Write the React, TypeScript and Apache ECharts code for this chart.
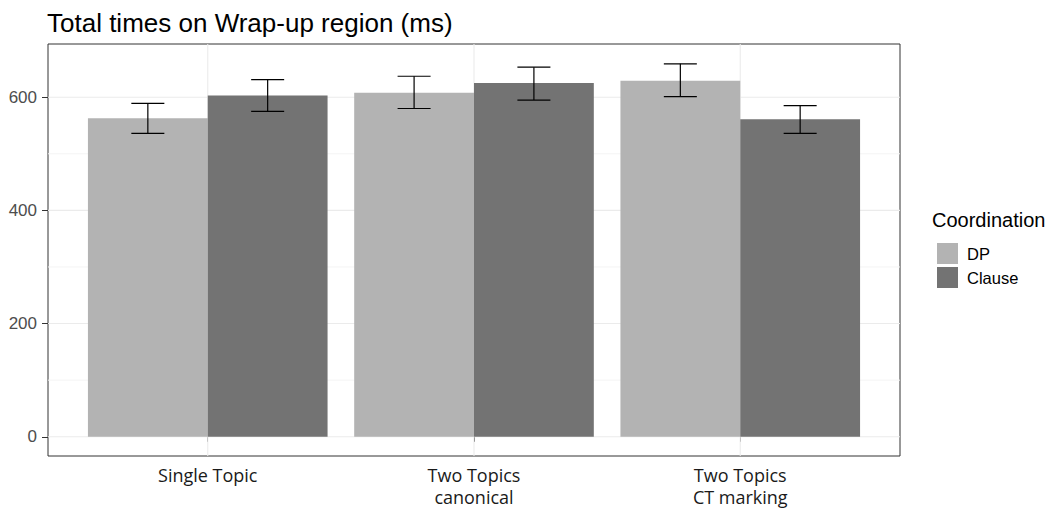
import React, { useEffect, useRef } from "react";
import * as echarts from "echarts";

const categories = ["Single Topic", "Two Topics\ncanonical", "Two Topics\nCT marking"];
const groups = ["DP", "Clause"];
const dpMeans = [563, 608, 629];
const dpLower = [536, 580, 601];
const dpUpper = [589, 637, 659];
const clauseMeans = [603, 625, 561];
const clauseLower = [575, 595, 536];
const clauseUpper = [631, 653, 585];
const yTicks = [0, 200, 400, 600];
const yMinorTicks = [100, 300, 500];

const X_MIN = 0.4;
const X_MAX = 3.6;
const Y_MIN = -34;
const Y_MAX = 694;

const barSeries = (name: string, color: string, means: number[], lo: number[], hi: number[], off: number) => ({
  type: "custom",
  name,
  z: 3,
  itemStyle: { color },
  encode: { x: 0, y: 1 },
  data: means.map((m, i) => [i + 1, m, lo[i], hi[i]]),
  renderItem: (params: any, api: any) => {
    const x = api.value(0) as number;
    const v = api.value(1) as number;
    const l = api.value(2) as number;
    const h = api.value(3) as number;
    const half = 0.225;
    const cap = 0.062;
    const c = x + off;
    const p0 = api.coord([c - half, v]);
    const p1 = api.coord([c + half, 0]);
    const pl = api.coord([c, l]);
    const ph = api.coord([c, h]);
    const cl = api.coord([c - cap, l]);
    const cr = api.coord([c + cap, l]);
    const stroke = { stroke: "#000", lineWidth: 1.2 };
    return {
      type: "group",
      children: [
        { type: "rect", shape: { x: p0[0], y: p0[1], width: p1[0] - p0[0], height: p1[1] - p0[1] }, style: { fill: color } },
        { type: "line", shape: { x1: pl[0], y1: pl[1], x2: ph[0], y2: ph[1] }, style: stroke },
        { type: "line", shape: { x1: cl[0], y1: cl[1], x2: cr[0], y2: cr[1] }, style: stroke },
        { type: "line", shape: { x1: cl[0], y1: ph[1], x2: cr[0], y2: ph[1] }, style: stroke },
      ],
    };
  },
});

const hLines = (vals: number[], color: string, width: number) => ({
  type: "custom",
  z: 1,
  silent: true,
  encode: { x: 0, y: 1 },
  data: vals.map((v) => [1, v]),
  renderItem: (params: any, api: any) => {
    const y = api.value(1) as number;
    const a = api.coord([X_MIN, y]);
    const b = api.coord([X_MAX, y]);
    return { type: "line", shape: { x1: a[0], y1: a[1], x2: b[0], y2: b[1] }, style: { stroke: color, lineWidth: width } };
  },
});

const vLines = {
  type: "custom",
  z: 1,
  silent: true,
  encode: { x: 0, y: 1 },
  data: categories.map((_, i) => [i + 1, 0]),
  renderItem: (params: any, api: any) => {
    const x = api.value(0) as number;
    const a = api.coord([x, Y_MIN]);
    const b = api.coord([x, Y_MAX]);
    return { type: "line", shape: { x1: a[0], y1: a[1], x2: b[0], y2: b[1] }, style: { stroke: "#ebebeb", lineWidth: 1.1 } };
  },
};

export default function App() {
  const ref = useRef<HTMLDivElement>(null);
  useEffect(() => {
    if (!ref.current) return;
    const chart = echarts.init(ref.current, null, { renderer: "svg" });
    chart.setOption({
      animation: false,
      backgroundColor: "#ffffff",
      title: {
        text: "Total times on Wrap-up region (ms)",
        left: 42,
        top: 5,
        textStyle: { fontFamily: "Liberation Sans", fontSize: 26, fontWeight: "normal", color: "#000" },
      },
      graphic: [
        {
          type: "text",
          left: 932,
          top: 210,
          style: { text: "Coordination", fontFamily: "Liberation Sans", fontSize: 20, fill: "#000" },
        },
      ],
      legend: {
        data: groups,
        orient: "vertical",
        left: 932,
        top: 238,
        itemWidth: 21,
        itemHeight: 21,
        itemGap: 3,
        icon: "rect",
        textStyle: { fontFamily: "Liberation Sans", fontSize: 16.5, color: "#000", padding: [0, 0, 0, 4] },
      },
      grid: {
        left: 48,
        right: 150,
        top: 44,
        bottom: 51,
        show: true,
        borderColor: "#333333",
        borderWidth: 1,
        backgroundColor: "transparent",
      },
      xAxis: {
        type: "value",
        min: X_MIN,
        max: X_MAX,
        splitLine: { show: false },
        axisLine: { show: false },
        axisTick: { show: true, length: 5, customValues: [1, 2, 3], lineStyle: { color: "#333333" } },
        axisLabel: {
          customValues: [1, 2, 3],
          formatter: (v: number) => categories[Math.round(v) - 1] ?? "",
          fontFamily: "Open Sans",
          fontSize: 18,
          lineHeight: 22,
          color: "#1a1a1a",
          margin: 8,
        },
      },
      yAxis: {
        type: "value",
        min: Y_MIN,
        max: Y_MAX,
        splitLine: { show: false },
        axisLine: { show: false },
        axisTick: { show: true, length: 6, customValues: yTicks, lineStyle: { color: "#333333" } },
        axisLabel: {
          customValues: yTicks,
          fontFamily: "Liberation Sans",
          fontSize: 17,
          color: "#4d4d4d",
          margin: 11,
        },
      },
      series: [
        hLines(yMinorTicks, "#f4f4f4", 1),
        hLines(yTicks, "#ebebeb", 1.1),
        vLines,
        barSeries("DP", "#b3b3b3", dpMeans, dpLower, dpUpper, -0.225),
        barSeries("Clause", "#737373", clauseMeans, clauseLower, clauseUpper, 0.225),
      ],
    });
    return () => chart.dispose();
  }, []);
  return <div ref={ref} style={{ position: "absolute", left: 0, top: 0, width: 1050, height: 508 }} />;
}
